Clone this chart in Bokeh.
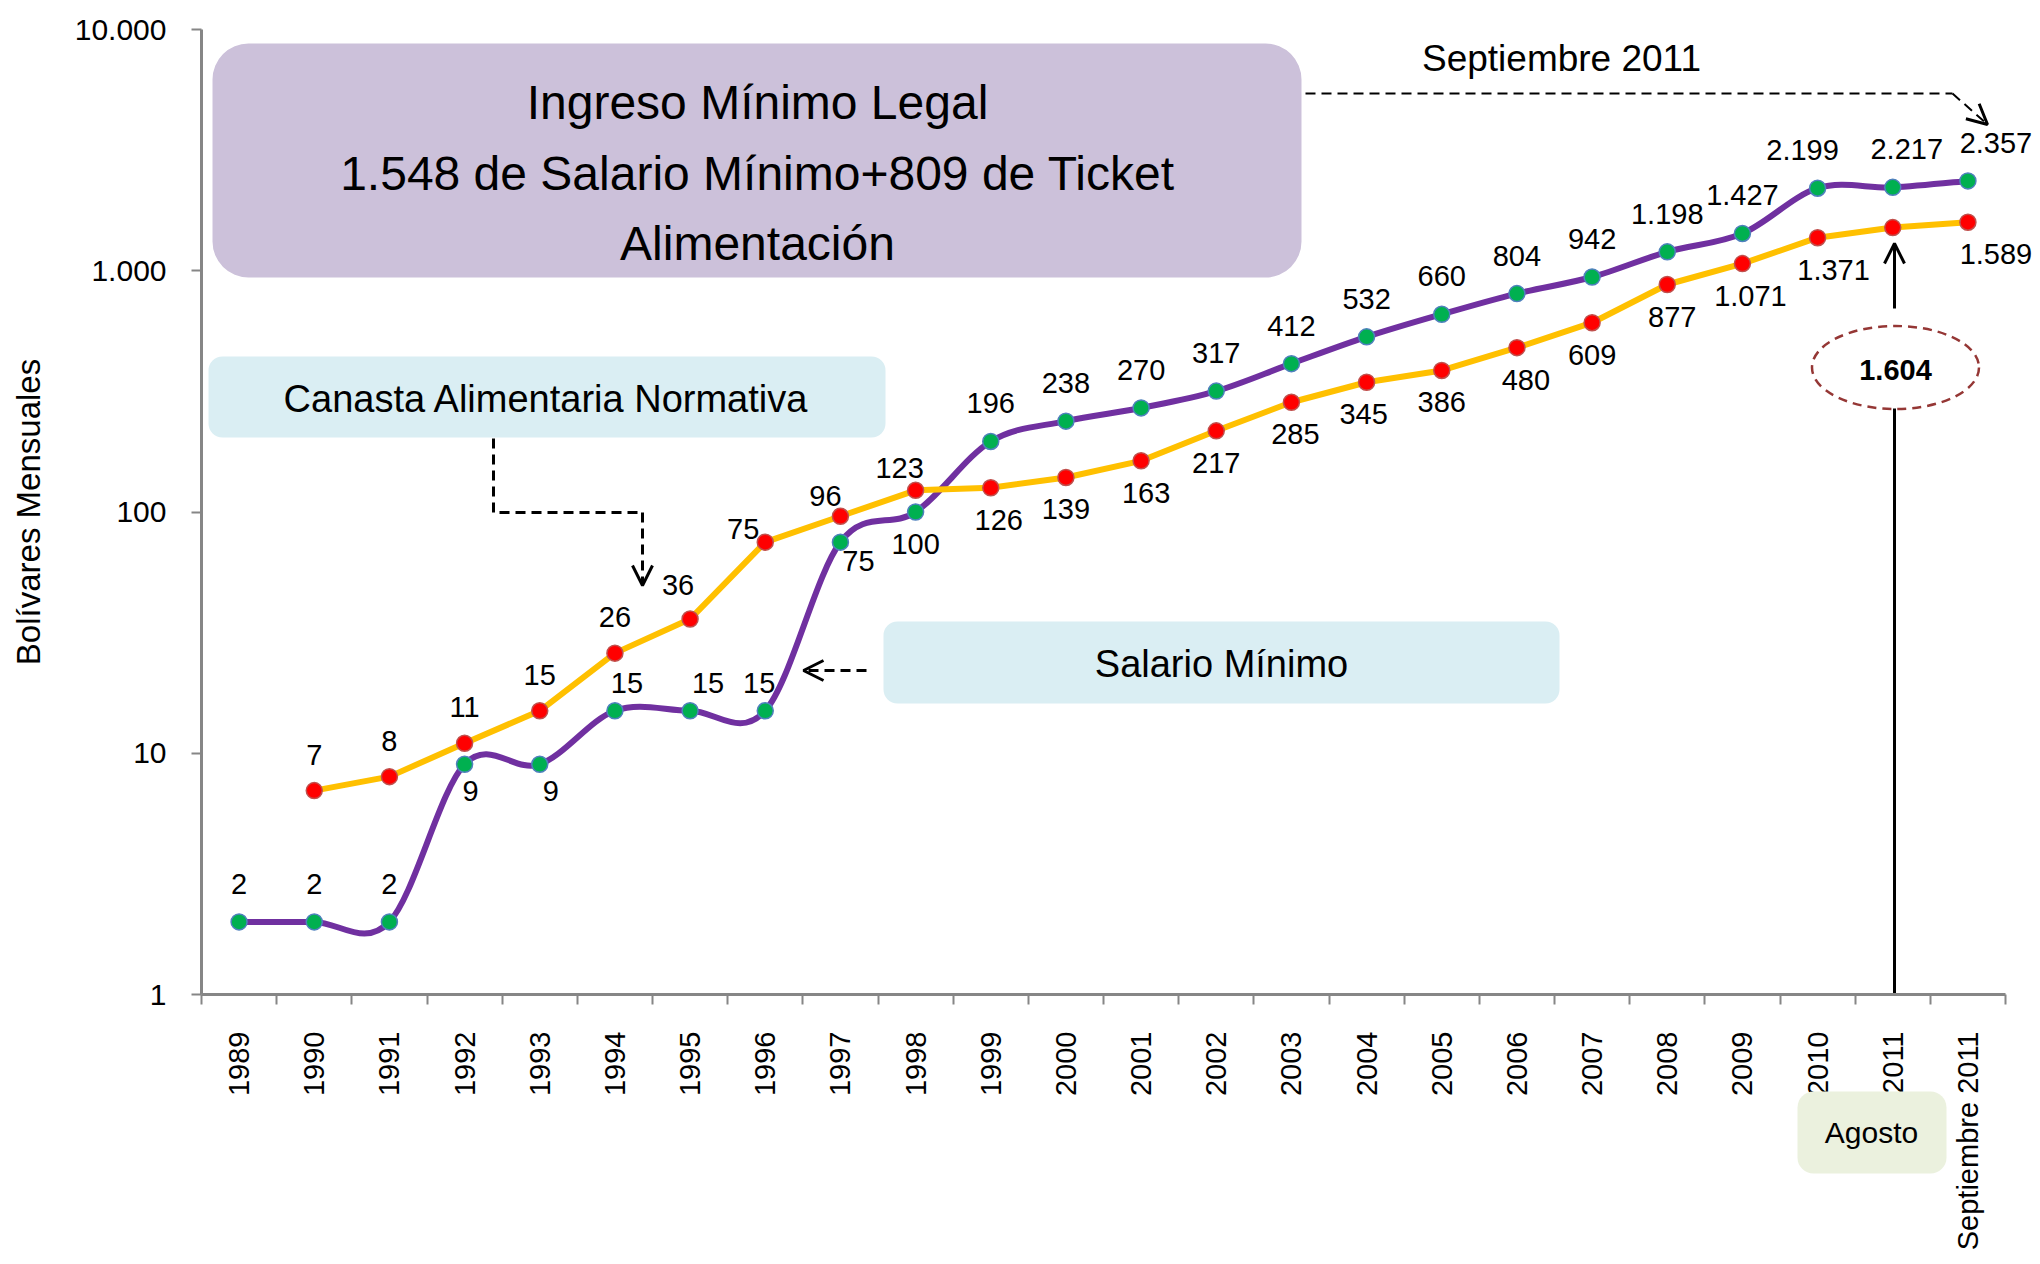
import math
from bokeh.plotting import figure
from bokeh.models import (Range1d, FixedTicker, BoxAnnotation, Label, Arrow, OpenHead,
                          ColumnDataSource)
from bokeh.core.properties import value
from bokeh.embed import file_html
from bokeh.resources import INLINE

# ---------------- data ----------------
categories = ["1989", "1990", "1991", "1992", "1993", "1994", "1995", "1996", "1997",
              "1998", "1999", "2000", "2001", "2002", "2003", "2004", "2005", "2006",
              "2007", "2008", "2009", "2010", "2011", "Septiembre 2011"]
salario_minimo = [2, 2, 2, 9, 9, 15, 15, 15, 75, 100, 196, 238, 270, 317, 412, 532, 660,
                  804, 942, 1198, 1427, 2199, 2217, 2357]
canasta = [None, 7, 8, 11, 15, 26, 36, 75, 96, 123, 126, 139, 163, 217, 285, 345, 386,
           480, 609, 877, 1071, 1371, 1510, 1589]
canasta_shown = [False] + [True] * 21 + [False, True]
y_ticks = [1, 10, 100, 1000, 10000]
y_tick_labels = ["1", "10", "100", "1.000", "10.000"]

# label placement (screen px offsets; + is down)
sal_dx = [0, 0, 0, 6, 11, 12, 18, -6, 18, 0, 0, 0, 0, 0, 0, 0, 0, 0, 0, 0, 0, -15, 14, 28]
sal_dy = [-38, -38, -38, 27, 27, -28, -28, -28, 19, 32] + [-38] * 14
can_dx = [0, 0, 0, 0, 0, 0, -12, -22, -15, -16, 8, 0, 5, 0, 4, -3, 0, 9, 0, 5, 8, 16, 0, 28]
can_dy = [0, -36, -36, -36, -36, -36, -34, -13, -20, -22] + [32] * 14

FONT = "Liberation Sans"
PURPLE = "#7030A0"
ORANGE = "#FFC000"
GRAY = "#868686"

W, H = 2032, 1256
# plot area inside the canvas (canvas pixels == page pixels)
CL, CR, CT, CB = 201, 2005, 29, 994
PER = (CR - CL) / 24.0
DEC = (CB - CT) / 4.0
x_range = Range1d(-0.5 - CL / PER, 23.5 + (W - CR) / PER)
y_range = Range1d(10 ** (-(H - CB) / DEC), 10 ** (4 + CT / DEC))


def X(px):  # page px -> data x
    return (px - CL) / PER - 0.5


def Y(py):  # page px -> data y
    return 10 ** ((CB - py) / DEC)


def fmt(v):
    return f"{v:,}".replace(",", ".")


p = figure(width=W, height=H, x_range=x_range, y_range=y_range, y_axis_type="log",
           output_backend="svg", toolbar_location=None, min_border=0)
p.min_border_left = p.min_border_right = p.min_border_top = p.min_border_bottom = 0
p.outline_line_color = None
p.xgrid.visible = False
p.ygrid.visible = False

# x axis (drawn at y = 1, limited to the category span)
xa = p.xaxis[0]
xa.fixed_location = 1
xa.bounds = (-0.5, 23.5)
xa.ticker = FixedTicker(ticks=list(range(24)), minor_ticks=[i - 0.5 for i in range(25)])
xa.major_label_overrides = {i: c for i, c in enumerate(categories)}
xa.major_label_orientation = math.pi / 2
xa.major_tick_line_color = None
xa.major_tick_out = 10
xa.major_tick_in = 0
xa.minor_tick_out = 10
xa.minor_tick_in = 0
xa.minor_tick_line_color = GRAY
xa.minor_tick_line_width = 2
xa.axis_line_color = GRAY
xa.axis_line_width = 3
xa.major_label_standoff = 27
xa.major_label_text_font = FONT
xa.major_label_text_font_size = "29px"
xa.major_label_text_color = "black"

# y axis (drawn at x = -0.5)
ya = p.yaxis[0]
ya.fixed_location = -0.5
ya.bounds = (1, 10000)
ya.ticker = FixedTicker(ticks=y_ticks)
ya.major_label_overrides = {t: l for t, l in zip(y_ticks, y_tick_labels)}
ya.minor_tick_line_color = None
ya.major_tick_out = 10
ya.major_tick_in = 0
ya.major_tick_line_color = GRAY
ya.major_tick_line_width = 2
ya.axis_line_color = GRAY
ya.axis_line_width = 3
ya.major_label_standoff = 25
ya.major_label_text_font = FONT
ya.major_label_text_font_size = "30px"
ya.major_label_text_color = "black"
ya.axis_label = "Bolívares Mensuales"
ya.axis_label_text_font = FONT
ya.axis_label_text_font_size = "33px"
ya.axis_label_text_font_style = "normal"
ya.axis_label_text_color = "black"
ya.axis_label_standoff = 25

# ---------------- boxes ----------------
p.add_layout(BoxAnnotation(left=X(212), right=X(1301), top=Y(43), bottom=Y(277),
                           fill_color="#CCC1DA", fill_alpha=1, line_color=None,
                           border_radius=36, level="underlay"))
p.add_layout(BoxAnnotation(left=X(208), right=X(885), top=Y(356), bottom=Y(437),
                           fill_color="#DAEEF3", fill_alpha=1, line_color=None,
                           border_radius=14, level="underlay"))
p.add_layout(BoxAnnotation(left=X(883), right=X(1559), top=Y(621), bottom=Y(703),
                           fill_color="#DAEEF3", fill_alpha=1, line_color=None,
                           border_radius=14, level="underlay"))

for txt, py in [("Ingreso Mínimo Legal", 102), ("1.548 de Salario Mínimo+809 de Ticket", 173),
                ("Alimentación", 243)]:
    p.add_layout(Label(x=X(757), y=Y(py), text=txt, text_font=FONT, text_font_size="48px",
                       text_align="center", text_baseline="middle", text_color="black"))
p.add_layout(Label(x=X(546), y=Y(398), text="Canasta Alimentaria Normativa", text_font=FONT,
                   text_font_size="38px", text_align="center", text_baseline="middle",
                   text_color="black"))
p.add_layout(Label(x=X(1221), y=Y(663), text="Salario Mínimo", text_font=FONT,
                   text_font_size="38px", text_align="center", text_baseline="middle",
                   text_color="black"))
p.add_layout(Label(x=X(1561), y=Y(58), text="Septiembre 2011", text_font=FONT,
                   text_font_size="37px", text_align="center", text_baseline="middle",
                   text_color="black"))

# ---------------- connectors ----------------
DASH = "10 6"
p.line([X(493), X(493), X(642)], [Y(438), Y(512), Y(512)], line_color="black",
       line_width=3, line_dash=DASH)
p.add_layout(Arrow(x_start=X(642), y_start=Y(512), x_end=X(642), y_end=Y(585),
                   line_color="black", line_width=3, line_dash=DASH,
                   end=OpenHead(size=20, line_width=3, line_color="black")))
p.add_layout(Arrow(x_start=X(866), y_start=Y(670), x_end=X(803), y_end=Y(670),
                   line_color="black", line_width=3, line_dash=DASH,
                   end=OpenHead(size=20, line_width=3, line_color="black")))
p.line([X(1305), X(1952)], [Y(93), Y(93)], line_color="black", line_width=2, line_dash=DASH)
p.add_layout(Arrow(x_start=X(1952), y_start=Y(93), x_end=X(1987), y_end=Y(124),
                   line_color="black", line_width=2, line_dash=DASH,
                   end=OpenHead(size=20, line_width=3, line_color="black")))

# 1.604 callout
p.ellipse(x=[X(1895)], y=[Y(367)], width=167, height=83, width_units="screen",
          height_units="screen", fill_color=None, line_color="#953735", line_width=2.5,
          line_dash="9 6")
p.add_layout(Label(x=X(1895), y=Y(369), text="1.604", text_font=FONT, text_font_size="29px",
                   text_font_style="bold", text_align="center", text_baseline="middle",
                   text_color="black"))
p.line([X(1894), X(1894)], [Y(408), Y(993)], line_color="black", line_width=3)
p.add_layout(Arrow(x_start=X(1894), y_start=Y(308), x_end=X(1894), y_end=Y(243),
                   line_color="black", line_width=3,
                   end=OpenHead(size=20, line_width=3, line_color="black")))

# ---------------- series ----------------
xs = list(range(len(categories)))

# Salario Minimo: smoothed (Excel-style bezier through the points)
ly = [math.log10(v) for v in salario_minimo]
n = len(xs)
bz = dict(x0=[], y0=[], x1=[], y1=[], cx0=[], cy0=[], cx1=[], cy1=[])
for i in range(n - 1):
    a = i - 1 if i > 0 else i
    d = i + 2 if i + 2 < n else i + 1
    bz["x0"].append(xs[i]); bz["y0"].append(salario_minimo[i])
    bz["x1"].append(xs[i + 1]); bz["y1"].append(salario_minimo[i + 1])
    bz["cx0"].append(xs[i] + (xs[i + 1] - xs[a]) / 6.0)
    bz["cy0"].append(10 ** (ly[i] + (ly[i + 1] - ly[a]) / 6.0))
    bz["cx1"].append(xs[i + 1] - (xs[d] - xs[i]) / 6.0)
    bz["cy1"].append(10 ** (ly[i + 1] - (ly[d] - ly[i]) / 6.0))
p.bezier(source=ColumnDataSource(bz), x0="x0", y0="y0", x1="x1", y1="y1", cx0="cx0",
         cy0="cy0", cx1="cx1", cy1="cy1", line_color=PURPLE, line_width=6, line_cap="round")

# Canasta: straight segments
cx = [x for x, v in zip(xs, canasta) if v is not None]
cv = [v for v in canasta if v is not None]
p.line(cx, cv, line_color=ORANGE, line_width=6, line_join="round")

p.scatter(cx, cv, size=16, fill_color="#FF0000", line_color="#C0504D", line_width=1.5)
p.scatter(xs, salario_minimo, size=16, fill_color="#00B050", line_color="#4F81BD",
          line_width=1.5)

# data labels
sal_src = ColumnDataSource(dict(x=xs, y=salario_minimo, t=[fmt(v) for v in salario_minimo],
                                dx=sal_dx, dy=sal_dy))
p.text(x="x", y="y", text="t", x_offset="dx", y_offset="dy", source=sal_src,
       text_font=value(FONT), text_font_size="29px", text_align="center",
       text_baseline="alphabetic", text_color="black")
ci = [i for i in xs if canasta_shown[i]]
can_src = ColumnDataSource(dict(x=ci, y=[canasta[i] for i in ci],
                                t=[fmt(canasta[i]) for i in ci],
                                dx=[can_dx[i] for i in ci], dy=[can_dy[i] for i in ci]))
p.text(x="x", y="y", text="t", x_offset="dx", y_offset="dy", source=can_src,
       text_font=value(FONT), text_font_size="29px", text_align="center",
       text_baseline="alphabetic", text_color="black")

# Agosto box below the axis (drawn over the tick labels)
p.add_layout(BoxAnnotation(left=X(1797), right=X(1946), top=Y(1091), bottom=Y(1173),
                           fill_color="#EBF1DE", fill_alpha=1, line_color=None,
                           border_radius=16, level="overlay"))
p.add_layout(Label(x=X(1871), y=Y(1132), text="Agosto", text_font=FONT,
                   text_font_size="30px", text_align="center", text_baseline="middle",
                   text_color="black", level="overlay"))

open("out.html", "w").write(file_html(p, INLINE))
